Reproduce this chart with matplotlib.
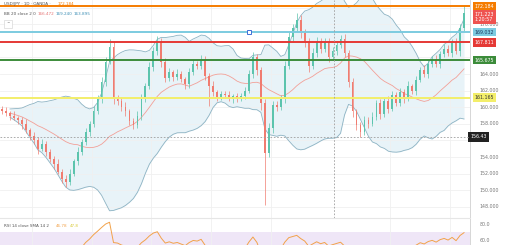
import numpy as np
import pandas as pd
from matplotlib import pyplot as plt

#%% DATA

open0 = 159.8
closes = [159.6, 159.3, 159.0, 158.7, 158.4, 158.0, 157.2, 156.5, 156.0, 155.0,
          155.6, 154.6, 153.8, 153.2, 152.2, 151.4, 151.0, 152.0, 153.5, 154.6,
          155.8, 157.0, 158.0, 159.5, 161.0, 163.0, 165.5, 167.2, 161.0, 160.8,
          160.0, 159.5, 158.3, 157.8, 159.0, 161.0, 162.5, 164.8, 166.8, 167.8,
          165.5, 163.5, 164.2, 163.6, 164.0, 163.4, 162.8, 164.2, 165.2, 165.0,
          165.8, 163.8, 162.6, 161.8, 161.2, 161.6, 161.5, 161.0, 161.3, 161.0,
          161.4, 162.0, 164.0, 166.0, 164.5, 160.5, 154.5, 157.5, 160.3, 160.0,
          161.0, 165.0, 168.5, 169.5, 170.5, 169.0, 167.8, 165.0, 166.5, 168.0,
          167.0, 167.8, 166.0, 166.8, 167.5, 168.2, 166.5, 163.0, 159.5, 157.8,
          157.0, 158.5, 158.0, 158.8, 160.5, 159.2, 160.8, 159.8, 161.5, 160.5,
          161.8, 161.0, 162.5, 162.0, 163.3, 164.5, 164.0, 165.2, 165.8, 165.2,
          166.4, 167.0, 166.5, 167.8, 166.8, 169.5, 171.3]

wick_up = [0.3, 0.4, 0.3, 0.5, 0.3, 0.4, 0.6, 0.3, 0.5, 0.4,
           0.6, 0.3, 0.4, 0.3, 0.5, 0.3, 0.4, 0.5, 0.3, 0.6,
           0.4, 0.5, 0.3, 0.6, 0.5, 0.7, 0.6, 1.0, 0.8, 0.5,
           0.4, 0.6, 0.3, 0.4, 0.5, 0.6, 0.4, 0.7, 0.5, 0.8,
           0.6, 0.4, 0.5, 0.3, 0.6, 0.4, 0.3, 0.5, 0.6, 0.4,
           0.5, 0.4, 0.3, 0.5, 0.3, 0.4, 0.3, 0.5, 0.3, 0.4,
           0.3, 0.4, 0.5, 0.6, 0.4, 0.3, 0.5, 0.6, 0.4, 0.5,
           0.5, 0.6, 0.7, 0.5, 0.8, 0.6, 0.4, 0.5, 0.6, 0.5,
           0.4, 0.5, 0.6, 0.4, 0.5, 0.5, 0.6, 0.4, 0.5, 0.3,
           0.4, 0.5, 0.3, 0.6, 0.4, 0.5, 0.3, 0.6, 0.4, 0.3,
           0.5, 0.4, 0.6, 0.3, 0.5, 0.4, 0.6, 0.5, 0.4, 0.5,
           0.4, 0.6, 0.5, 0.4, 0.6, 0.5, 0.9]

wick_dn = [0.4, 0.3, 0.5, 0.3, 0.4, 0.6, 0.3, 0.5, 0.4, 0.6,
           0.3, 0.5, 0.4, 0.6, 0.3, 0.5, 0.6, 0.4, 0.3, 0.5,
           0.4, 0.3, 0.5, 0.4, 0.3, 0.5, 0.4, 0.3, 0.6, 0.5,
           0.4, 0.6, 0.5, 0.4, 0.3, 0.5, 0.4, 0.3, 0.4, 0.5,
           0.6, 0.5, 0.4, 0.5, 0.3, 0.4, 0.6, 0.5, 0.3, 0.4,
           0.4, 0.5, 2.5, 0.4, 0.5, 0.3, 0.4, 0.3, 0.5, 0.4,
           0.3, 0.4, 0.3, 0.5, 0.6, 0.8, 6.3, 0.5, 0.6, 0.4,
           0.3, 0.5, 0.4, 0.5, 0.4, 0.6, 0.5, 0.7, 0.4, 0.5,
           0.5, 0.4, 0.6, 0.3, 0.5, 0.4, 0.5, 0.6, 0.7, 0.5,
           0.6, 0.4, 0.5, 0.3, 0.4, 0.6, 0.4, 0.5, 0.3, 0.4,
           0.4, 0.5, 0.3, 0.4, 0.5, 0.3, 0.4, 0.5, 0.3, 0.4,
           0.5, 0.4, 0.3, 0.5, 0.4, 0.6, 0.3]

# horizontal levels drawn on the chart
levels = [172.184, 169.032, 167.811, 165.675, 161.165]
level_colors = ['#f57c00', '#7ccbe0', '#e53935', '#3c8c3a', '#f3ee6a']
level_labels = ['172.184', '169.032', '167.811', '165.675', '161.165']

last_label = '171.223\n1:20:57'
cross_price = 156.43
cross_label = '156.43'

price_ticks = [148, 150, 152, 154, 158, 160, 162, 164, 170]
price_tick_labels = ['148.000', '150.000', '152.000', '154.000', '158.000',
                     '160.000', '162.000', '164.000', '170.000']
rsi_ticks = [60, 80]
rsi_tick_labels = ['60.0', '80.0']

#%% INDICATORS

close = pd.Series(closes)
opens = pd.Series([open0] + closes[:-1])
highs = np.maximum(opens, close) + np.array(wick_up)
lows = np.minimum(opens, close) - np.array(wick_dn)

basis = close.rolling(20, min_periods=3).mean()
dev = close.rolling(20, min_periods=3).std(ddof=0)
upper = basis + 2 * dev
lower = basis - 2 * dev

delta = close.diff().fillna(0)
gain = delta.clip(lower=0).ewm(alpha=1/14, min_periods=1).mean()
loss = (-delta.clip(upper=0)).ewm(alpha=1/14, min_periods=1).mean()
rsi = 100 - 100 / (1 + gain / loss.replace(0, 1e-9))

#%% PLOT

W, H = 520, 245
fig = plt.figure(figsize=(W/100, H/100), dpi=100)
fig.patch.set_facecolor('white')

ax = fig.add_axes([0, 1 - 218/H, 470/W, 218/H])
ax_rsi = fig.add_axes([0, 0, 470/W, 27/H])

idx = np.arange(len(closes))

# Bollinger
ax.fill_between(idx, lower, upper, color='#e8f3f8', lw=0, zorder=1)
ax.plot(idx, upper, color='#8db3c3', lw=0.6, zorder=2)
ax.plot(idx, lower, color='#8db3c3', lw=0.6, zorder=2)
ax.plot(idx, basis, color='#f2a098', lw=0.6, zorder=2)

# candles
up = close >= opens
col = np.where(up, '#5cc4ad', '#f07c70')
ax.vlines(idx, lows, highs, colors=col, lw=0.5, zorder=3)
ax.bar(idx, (close - opens).abs().clip(lower=0.08), bottom=np.minimum(opens, close),
       width=0.45, color=col, lw=0, zorder=4)

# levels
for p, c in zip(levels, level_colors):
    ax.axhline(p, color=c, lw=1.4, zorder=5)
ax.plot([62], [levels[1]], marker='s', ms=3, mfc='white', mec='#3f6fd8', mew=0.7, zorder=6)

# crosshair
ax.axhline(cross_price, color='#9e9e9e', lw=0.6, ls=(0, (2, 2)), zorder=5)
ax.axvline(83.3, color='#9e9e9e', lw=0.6, ls=(0, (2, 2)), zorder=5)

ax.set_xlim(-0.5, 117.5)
ax.set_ylim(146.65, 172.92)
ax.set_xticks([7.5, 22.5, 37.5, 52.5, 67.5, 97.5, 112.5])
ax.set_yticks(np.arange(148, 173, 2))
ax.grid(True, color='#f0f0f0', lw=0.6, zorder=0)
ax.tick_params(length=0, labelbottom=False, labelleft=False)
for s in ax.spines.values():
    s.set_visible(False)
ax.spines['right'].set_visible(True)
ax.spines['right'].set_color('#d0d0d0')
ax.spines['right'].set_linewidth(0.6)

# right axis labels
for p, t in zip(price_ticks, price_tick_labels):
    ax.annotate(t, xy=(1.02, p), xycoords=('axes fraction', 'data'),
                fontsize=3.4, color='#777777', va='center', ha='left', annotation_clip=False)

box_text = ['white', '#1e3a5f', 'white', 'white', '#333333']
for p, c, t, tc in zip(levels, level_colors, level_labels, box_text):
    ax.annotate(t, xy=(1.01, p), xycoords=('axes fraction', 'data'),
                fontsize=3.4, color=tc, va='center', ha='left', annotation_clip=False,
                bbox=dict(boxstyle='square,pad=0.35', fc=c, ec='none'))
ax.annotate(last_label, xy=(1.01, 170.9), xycoords=('axes fraction', 'data'),
            fontsize=3.4, color='white', va='center', ha='left', annotation_clip=False,
            linespacing=1.1, bbox=dict(boxstyle='square,pad=0.35', fc='#ef5350', ec='none'))
ax.annotate(cross_label, xy=(1.0, cross_price), xycoords=('axes fraction', 'data'),
            fontsize=3.4, color='white', va='center', ha='left', annotation_clip=False,
            bbox=dict(boxstyle='square,pad=0.5', fc='#222222', ec='none'))

# RSI pane
ax_rsi.axhspan(30, 70, color='#efe6f7', lw=0)
ax_rsi.plot(idx, rsi, color='#f2a24a', lw=0.7)
ax_rsi.set_xlim(-0.5, 117.5)
ax_rsi.set_ylim(53.75, 87.5)
ax_rsi.set_xticks([7.5, 22.5, 37.5, 52.5, 67.5, 97.5, 112.5])
ax_rsi.set_yticks([])
ax_rsi.grid(True, axis='x', color='#f0f0f0', lw=0.6)
ax_rsi.tick_params(length=0, labelbottom=False, labelleft=False)
for s in ax_rsi.spines.values():
    s.set_visible(False)
ax_rsi.spines['top'].set_visible(True)
ax_rsi.spines['top'].set_color('#e6e6e6')
ax_rsi.spines['right'].set_visible(True)
ax_rsi.spines['right'].set_color('#d0d0d0')
ax_rsi.spines['right'].set_linewidth(0.6)
for p, t in zip(rsi_ticks, rsi_tick_labels):
    ax_rsi.annotate(t, xy=(1.02, p), xycoords=('axes fraction', 'data'),
                    fontsize=3.4, color='#777777', va='center', ha='left', annotation_clip=False)

# legends / headers
fs = 3.0
fig.text(4/W, 1 - 4/H, 'USD/JPY · 1D · OANDA ·', fontsize=fs, color='#555555', va='center')
fig.text(58/W, 1 - 4/H, '172.184', fontsize=fs, color='#f57c00', va='center')
fig.text(4/W, 1 - 14/H, 'BB 20 close 2 0', fontsize=fs, color='#555555', va='center')
fig.text(38/W, 1 - 14/H, '166.472', fontsize=fs, color='#e57373', va='center')
fig.text(56/W, 1 - 14/H, '169.240', fontsize=fs, color='#3d8fb5', va='center')
fig.text(74/W, 1 - 14/H, '163.895', fontsize=fs, color='#3d8fb5', va='center')
fig.text(8/W, 1 - 24/H, '^', fontsize=fs, color='#555555', va='center', ha='center',
         bbox=dict(boxstyle='square,pad=0.5', fc='white', ec='#d0d0d0', lw=0.4))
fig.text(4/W, 1 - 226/H, 'RSI 14 close SMA 14 2', fontsize=fs, color='#555555', va='center')
fig.text(56/W, 1 - 226/H, '46.78', fontsize=fs, color='#f2a24a', va='center')
fig.text(70/W, 1 - 226/H, '47.8', fontsize=fs, color='#d9cb3a', va='center')

fig.savefig('out.png', dpi=100)
